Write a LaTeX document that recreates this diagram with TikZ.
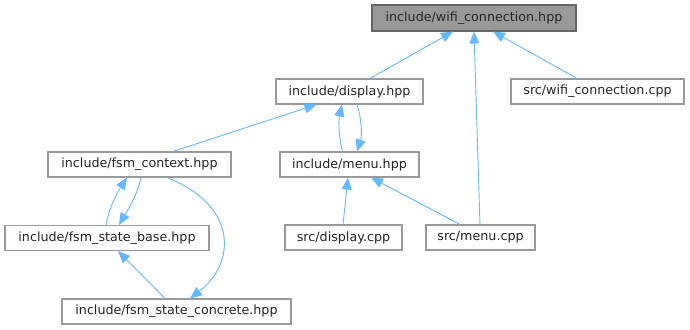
\documentclass[tikz,border=0pt]{standalone}
\usepackage{fontspec}
\setmainfont{DejaVu Sans}
\usetikzlibrary{arrows.meta}
\definecolor{edgeblue}{HTML}{63B8FF}
\definecolor{boxgray}{HTML}{999999}
\definecolor{rootline}{HTML}{666666}
\begin{document}
\begin{tikzpicture}[x=1pt,y=-1pt,
  file/.style={draw=boxgray,line width=1.1pt,fill=white,inner sep=0pt,
    minimum height=25pt,font=\fontsize{12.7}{14}\selectfont,text=black!85},
  rootfile/.style={file,fill=boxgray,draw=rootline},
  dep/.style={draw=edgeblue,line width=0.9pt,
    -{Triangle[length=12pt,width=10pt,fill=edgeblue]}}]
\useasboundingbox (0,0) rectangle (690,329);

% header files and sources
\node[rootfile,minimum width=204pt,minimum height=26pt] (wifi) at (474,18) {include/wifi\_connection.hpp};
\node[file,minimum width=147pt] (display) at (349.5,91.5) {include/display.hpp};
\node[file,minimum width=173pt] (wificpp) at (597.5,91.5) {src/wifi\_connection.cpp};
\node[file,minimum width=183pt] (context) at (139.5,164.5) {include/fsm\_context.hpp};
\node[file,minimum width=139pt] (menu) at (349.5,164.5) {include/menu.hpp};
\node[file,minimum width=204pt] (base) at (107,238) {include/fsm\_state\_base.hpp};
\node[file,minimum width=117pt] (dispcpp) at (343.5,237.5) {src/display.cpp};
\node[file,minimum width=109pt] (menucpp) at (480.5,237.5) {src/menu.cpp};
\node[file,minimum width=229pt] (concrete) at (176.5,311.5) {include/fsm\_state\_concrete.hpp};

% include dependencies (arrow points to the included file)
\draw[dep] ([xshift=20.5pt]display.north) -- ([xshift=-21pt]wifi.south);
\draw[dep] ([xshift=-0.5pt]menucpp.north) -- (wifi.south);
\draw[dep] ([xshift=-20.5pt]wificpp.north) -- ([xshift=19pt]wifi.south);
\draw[dep] ([xshift=33.5pt]context.north) -- ([xshift=-33pt]display.south);
\draw[dep] ([xshift=-7pt]menu.north) .. controls (338.5,136) and (338.5,120) .. ([xshift=-7.5pt]display.south);
\draw[dep] ([xshift=7.5pt]display.south) .. controls (362,120) and (362,136) .. ([xshift=7.5pt]menu.north);
\draw[dep] ([xshift=-1pt]base.north) .. controls (109,208) and (117,193) .. ([xshift=-12.5pt]context.south);
\draw[dep] ([xshift=1.5pt]context.south) .. controls (138,193) and (129,208) .. ([xshift=12pt]base.north);
\draw[dep] ([xshift=27.5pt]context.south) .. controls (237,205) and (237,262) .. ([xshift=13.5pt]concrete.north);
\draw[dep] ([xshift=-11.5pt]concrete.north) -- ([xshift=11pt]base.south);
\draw[dep] ([xshift=-0.5pt]dispcpp.north) -- ([xshift=-1.5pt]menu.south);
\draw[dep] ([xshift=-20.5pt]menucpp.north) -- ([xshift=21.5pt]menu.south);
\end{tikzpicture}
\end{document}
